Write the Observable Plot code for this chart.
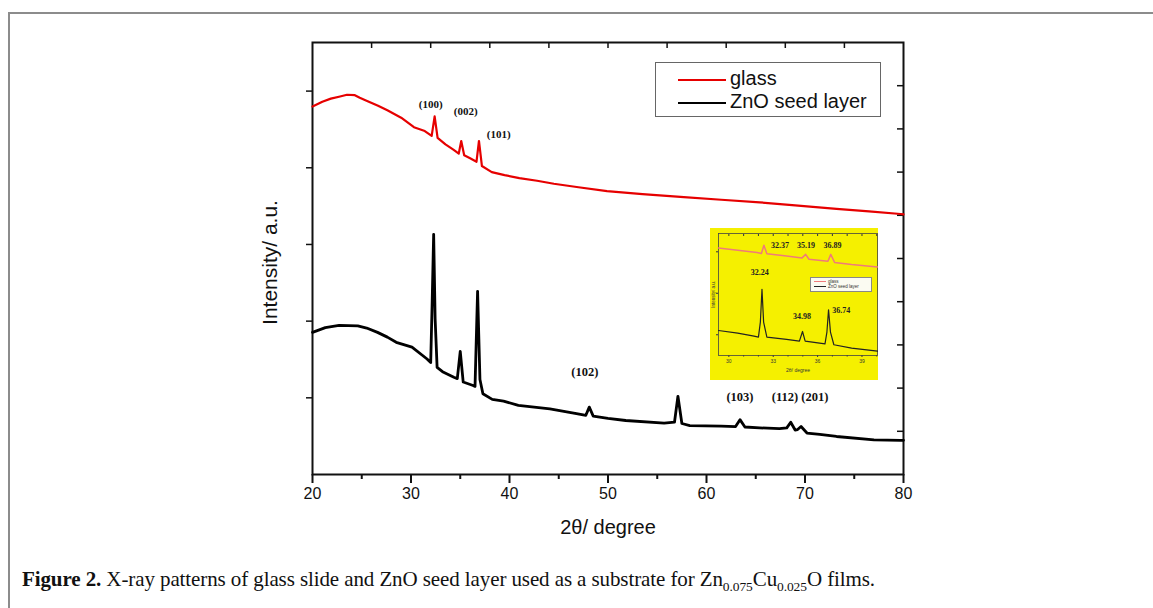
<!DOCTYPE html>
<html><head><meta charset="utf-8">
<script src="https://cdn.jsdelivr.net/npm/d3@7"></script>
<script src="https://cdn.jsdelivr.net/npm/@observablehq/plot@0.6"></script>
<style>
body{margin:0;background:#fff;}
#page{position:relative;width:1153px;height:608px;overflow:hidden;font-family:"Liberation Sans",Arial,sans-serif;}
#border{position:absolute;left:8px;top:12px;width:1200px;height:700px;border-left:2px solid #8c8c8c;border-top:2px solid #8c8c8c;}
#main{position:absolute;left:0;top:0;}
#inset{position:absolute;left:710px;top:228px;background:#f5f000;}
#legend{position:absolute;left:655px;top:62px;width:224px;height:53px;border:1px solid #666;background:#fff;font-size:20px;color:#111;}
#legend .row{position:absolute;left:22px;height:24px;line-height:24px;white-space:nowrap;}
#legend .sw{display:inline-block;width:48px;height:0;vertical-align:middle;margin-right:4px;}
#ilegend{position:absolute;left:810px;top:277px;width:60px;height:13px;border:0.7px solid #888;background:#fbfbf2;font-size:4.5px;color:#333;}
#ilegend .row{position:absolute;left:3px;height:6px;line-height:6px;white-space:nowrap;}
#ilegend .sw{display:inline-block;width:12px;height:0;vertical-align:middle;margin-right:2px;}
#caption{position:absolute;left:22px;top:567px;font-family:"Liberation Serif","Times New Roman",serif;font-size:21px;color:#111;white-space:nowrap;letter-spacing:-0.1px;}
#caption sub{font-size:13.5px;}
</style></head>
<body>
<div id="page">
  <div id="border"></div>
  <div id="main"></div>
  <div id="legend">
    <div class="row" style="top:3px"><span class="sw" style="border-top:2px solid #e60000"></span>glass</div>
    <div class="row" style="top:26px"><span class="sw" style="border-top:2px solid #000"></span>ZnO seed layer</div>
  </div>
  <div id="inset"></div>
  <div id="ilegend">
    <div class="row" style="top:0.5px"><span class="sw" style="border-top:1px solid #f07a7a"></span>glass</div>
    <div class="row" style="top:6px"><span class="sw" style="border-top:1px solid #222"></span>ZnO seed layer</div>
  </div>
  <div id="caption"><b>Figure 2.</b> X-ray patterns of glass slide and ZnO seed layer used as a substrate for Zn<sub>0.075</sub>Cu<sub>0.025</sub>O films.</div>
</div>
<script>
// ---- main chart data ----
const glassX = [20, 21.0, 21.86, 22.8, 23.5, 24.3, 24.8, 25.6, 26.6, 27.6, 29.0, 30.3, 31.4, 32.1, 32.4, 32.7, 33.5, 34.3, 34.85, 35.1, 35.4, 36.0, 36.65, 36.9, 37.2, 38.2, 39.5, 41.0, 42.8, 44.5, 47.0, 49.9, 53.5, 57.7, 61.5, 65.4, 69.0, 73.2, 76.5, 79.7, 80];
const glassY = [85.2, 86.3, 87.0, 87.5, 87.9, 87.8, 87.2, 86.4, 85.4, 84.3, 82.6, 80.4, 79.5, 78.4, 82.9, 77.9, 76.4, 75.2, 74.3, 77.2, 73.9, 73.2, 72.4, 77.2, 71.4, 70.0, 69.3, 68.6, 68.0, 67.3, 66.5, 65.6, 64.9, 64.2, 63.6, 63.0, 62.3, 61.5, 60.9, 60.3, 60.2];
const znoX = [20, 21.3, 22.7, 24.6, 25.5, 26.6, 27.6, 28.5, 30.1, 31.6, 32.0, 32.15, 32.3, 32.45, 32.65, 33.2, 34.35, 34.7, 35.0, 35.3, 36.3, 36.5, 36.76, 37.0, 37.3, 38.25, 39.4, 40.9, 42.5, 44.1, 46.8, 47.75, 48.1, 48.5, 50.0, 51.8, 55.7, 56.75, 57.1, 57.5, 58.3, 61.5, 62.95, 63.4, 63.9, 65.4, 67.4, 68.15, 68.55, 69.0, 69.25, 69.6, 70.2, 71.5, 73.2, 77.0, 79.7, 80];
const znoY = [32.9, 34.0, 34.5, 34.4, 33.9, 32.9, 31.8, 30.6, 29.5, 26.8, 25.9, 40.0, 55.6, 36.0, 24.8, 23.8, 22.5, 22.2, 28.5, 21.4, 20.6, 20.4, 42.4, 22.0, 18.7, 17.4, 17.0, 16.0, 15.6, 15.2, 14.1, 13.7, 15.6, 13.5, 13.0, 12.5, 11.9, 12.1, 18.1, 11.8, 11.3, 11.2, 11.1, 12.7, 11.0, 10.8, 10.6, 10.8, 12.1, 10.3, 10.4, 11.1, 9.6, 9.3, 8.8, 8.0, 7.9, 7.9];
const peakNames = ["(100)", "(002)", "(101)", "(102)", "(103)", "(112) (201)"];
const peakLabelX = [32.0, 35.56, 38.9, 47.65, 63.4, 69.5];
const peakLabelY = [85.6, 84.0, 78.7, 23.7, 17.9, 17.9];
const peakLabelSize = [11, 11, 11, 12.5, 12.5, 12.5];

// ticks
const xTickLabels = [20, 30, 40, 50, 60, 70, 80];
const xMinorTicks = [25, 35, 45, 55, 65, 75];
const xTopTicks = [26, 32, 38, 44, 50, 56, 62, 68, 74];
const yLeftTicks = [17.75, 35.5, 53.25, 71, 88.75];
const yRightTicks = [10, 20, 30, 40, 50, 60, 70, 80, 90];
const xTitle = "2θ/ degree";
const yTitle = "Intensity/ a.u.";

// ---- inset data ----
const iGlassX = [29.3, 30.6, 31.9, 32.2, 32.37, 32.57, 33.9, 34.95, 35.19, 35.42, 36.7, 36.89, 37.15, 38.3, 40.05];
const iGlassY = [88.2, 86.3, 84.4, 83.6, 90.4, 83.4, 81.6, 80.0, 82.9, 78.9, 77.3, 82.9, 76.2, 74.5, 72.6];
const iZnoX = [29.3, 30.6, 31.7, 32.0, 32.13, 32.24, 32.35, 32.57, 33.9, 34.77, 34.98, 35.16, 36.5, 36.63, 36.74, 36.87, 37.1, 38.3, 40.05];
const iZnoY = [20.5, 18.4, 15.9, 15.1, 27.4, 54.2, 27.4, 15.1, 13.2, 11.8, 19.7, 11.8, 9.6, 19.2, 37.5, 19.2, 8.8, 6.0, 3.6];
const iPeakNames = ["32.37", "35.19", "36.89", "32.24", "34.98", "36.74"];
const iPeakX = [33.45, 35.21, 37.0, 32.09, 34.94, 37.6];
const iPeakY = [90.4, 89.9, 89.9, 67.9, 32.3, 37.0];
const iTickLabels = [30, 33, 36, 39];
const iMinorTicks = [31, 32, 34, 35, 37, 38, 40];
const iYTicks = [17, 51, 85];

const glass = glassX.map((x, i) => ({x, y: glassY[i]}));
const zno = znoX.map((x, i) => ({x, y: znoY[i]}));
const peaks = peakNames.map((t, i) => ({t, x: peakLabelX[i], y: peakLabelY[i], s: peakLabelSize[i]}));

const main = Plot.plot({
  width: 1153, height: 545,
  marginLeft: 312, marginRight: 250, marginTop: 42, marginBottom: 71,
  x: {domain: [20, 80]},
  y: {domain: [0, 100]},
  style: {fontFamily: "Liberation Sans, Arial, sans-serif", color: "#111", background: "transparent"},
  marks: [
    Plot.axisX({ticks: xTickLabels, tickSize: 9, tickPadding: 4, fontSize: 16, tickFormat: d => d, label: null, strokeWidth: 2}),
    Plot.axisX({ticks: xMinorTicks, tickSize: 5, tickFormat: () => "", label: null, strokeWidth: 2}),
    Plot.axisX({anchor: "top", ticks: xTopTicks, tickSize: -5, tickFormat: () => "", label: null, strokeWidth: 1.5}),
    Plot.axisY({anchor: "left", ticks: yLeftTicks, tickSize: 6, tickFormat: () => "", label: null, strokeWidth: 1.5}),
    Plot.axisY({anchor: "right", ticks: yRightTicks, tickSize: -7, tickFormat: () => "", label: null, strokeWidth: 1.5}),
    Plot.frame({stroke: "#111", strokeWidth: 2}),
    Plot.text([xTitle], {frameAnchor: "bottom", text: d => d, dy: 53, lineAnchor: "middle", textAnchor: "middle", fontSize: 20}),
    Plot.text([yTitle], {frameAnchor: "left", text: d => d, dx: -42, dy: 4, rotate: -90, textAnchor: "middle", lineAnchor: "middle", fontSize: 21}),
    Plot.line(glass, {x: "x", y: "y", stroke: "#e60000", strokeWidth: 2.2}),
    Plot.line(zno, {x: "x", y: "y", stroke: "#000", strokeWidth: 2.8}),
    Plot.text(peaks, {x: "x", y: "y", text: "t", fontSize: "s", fontWeight: "bold", fontFamily: "Liberation Serif, Times New Roman, serif", fill: "#111"})
  ]
});
document.getElementById("main").appendChild(main);

const iGlass = iGlassX.map((x, i) => ({x, y: iGlassY[i]}));
const iZno = iZnoX.map((x, i) => ({x, y: iZnoY[i]}));
const iPeaks = iPeakNames.map((t, i) => ({t, x: iPeakX[i], y: iPeakY[i]}));

const inset = Plot.plot({
  width: 168, height: 152,
  marginLeft: 8, marginRight: 1, marginTop: 5, marginBottom: 25,
  x: {domain: [29.3, 40.05]},
  y: {domain: [0, 100]},
  style: {fontFamily: "Liberation Sans, Arial, sans-serif", color: "#333", background: "transparent"},
  marks: [
    Plot.axisX({ticks: iTickLabels, tickSize: 2, tickPadding: 2, fontSize: 5, tickFormat: d => d, label: null}),
    Plot.axisX({ticks: iMinorTicks, tickSize: 1.5, tickFormat: () => "", label: null}),
    Plot.axisX({anchor: "top", ticks: iTickLabels.concat(iMinorTicks), tickSize: -2, tickFormat: () => "", label: null}),
    Plot.axisY({anchor: "left", ticks: iYTicks, tickSize: 2, tickFormat: () => "", label: null}),
    Plot.frame({stroke: "#444", strokeWidth: 0.8}),
    Plot.text([xTitle], {frameAnchor: "bottom", text: d => d, dy: 15, lineAnchor: "middle", textAnchor: "middle", fontSize: 5}),
    Plot.text([yTitle], {frameAnchor: "left", text: d => d, dx: -5, rotate: -90, textAnchor: "middle", lineAnchor: "middle", fontSize: 4.5}),
    Plot.line(iGlass, {x: "x", y: "y", stroke: "#f07a7a", strokeWidth: 1.5}),
    Plot.line(iZno, {x: "x", y: "y", stroke: "#222", strokeWidth: 1.2}),
    Plot.text(iPeaks, {x: "x", y: "y", text: "t", fontSize: 8, fontWeight: "bold", fontFamily: "Liberation Serif, Times New Roman, serif", fill: "#222"})
  ]
});
document.getElementById("inset").appendChild(inset);
</script>
</body></html>
